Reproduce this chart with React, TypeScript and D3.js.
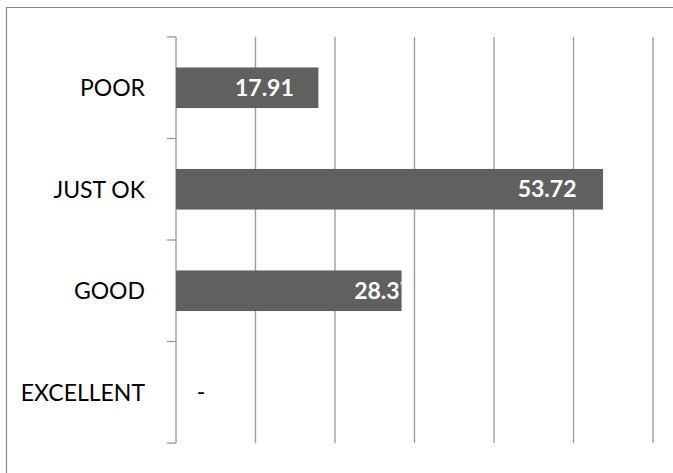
import React from "react";
import * as d3 from "d3";

const categories = ["POOR", "JUST OK", "GOOD", "EXCELLENT"];
const values = [17.91, 53.72, 28.37, 0];
const valueLabels = ["17.91", "53.72", "28.37", "-"];
const xTicks = [0, 10, 20, 30, 40, 50, 60];

const W = 673;
const H = 473;

export default function App() {
  const x = d3.scaleLinear().domain([0, 60]).range([176, 653]);
  const y = d3
    .scaleBand<string>()
    .domain(categories)
    .range([37, 443])
    .paddingInner(0.6)
    .paddingOuter(0.3);
  const step = y.step();
  const boundaries = d3.range(categories.length + 1).map((i) => 37 + i * step);
  // horizontal placement of value labels relative to bar end (center of text)
  const labelShift = [-54, -56, -18, 0];
  const font = "Lato, 'Open Sans', sans-serif";
  const grid = "#9e9e9e";

  return (
    <svg
      width={W}
      height={H}
      style={{ position: "absolute", left: 0, top: 0, background: "#fff" }}
    >
      <defs>
        {categories.map((c, i) => (
          <clipPath id={`clip${i}`} key={c}>
            <rect
              x={x(0)}
              y={y(c)!}
              width={Math.max(0, x(values[i]) - x(0))}
              height={y.bandwidth()}
            />
          </clipPath>
        ))}
      </defs>
      {/* outer frame (left + top visible) */}
      <line x1={6.5} x2={6.5} y1={7} y2={H} stroke="#8a8a8a" strokeWidth={1.2} />
      <line x1={6} x2={W} y1={7.5} y2={7.5} stroke="#8a8a8a" strokeWidth={1.2} />

      {/* gridlines */}
      {xTicks.map((t) => (
        <line
          key={t}
          x1={x(t)}
          x2={x(t)}
          y1={37}
          y2={443}
          stroke={grid}
          strokeWidth={1.4}
        />
      ))}
      {/* category tick marks */}
      {boundaries.map((b, i) => (
        <line
          key={i}
          x1={167}
          x2={x(0)}
          y1={b}
          y2={b}
          stroke={grid}
          strokeWidth={1.4}
        />
      ))}

      {/* bars */}
      {categories.map((c, i) =>
        values[i] > 0 ? (
          <rect
            key={c}
            x={x(0)}
            y={y(c)!}
            width={x(values[i]) - x(0)}
            height={y.bandwidth()}
            fill="#606060"
          />
        ) : null
      )}

      {/* category labels */}
      {categories.map((c) => (
        <text
          key={c}
          x={145}
          y={y(c)! + y.bandwidth() / 2 + 8.5}
          textAnchor="end"
          fontFamily={font}
          fontSize={23}
          fill="#000"
        >
          {c}
        </text>
      ))}

      {/* value labels */}
      {categories.map((c, i) =>
        values[i] > 0 ? (
          <text
            key={c}
            x={x(values[i]) + labelShift[i]}
            y={y(c)! + y.bandwidth() / 2 + 8}
            textAnchor="middle"
            fontFamily={font}
            fontWeight={700}
            fontSize={23}
            fill="#fff"
            clipPath={`url(#clip${i})`}
          >
            {valueLabels[i]}
          </text>
        ) : (
          <text
            key={c}
            x={x(values[i]) + 25}
            y={y(c)! + y.bandwidth() / 2 + 8}
            textAnchor="middle"
            fontFamily={font}
            fontSize={23}
            fill="#000"
          >
            {valueLabels[i]}
          </text>
        )
      )}
    </svg>
  );
}
